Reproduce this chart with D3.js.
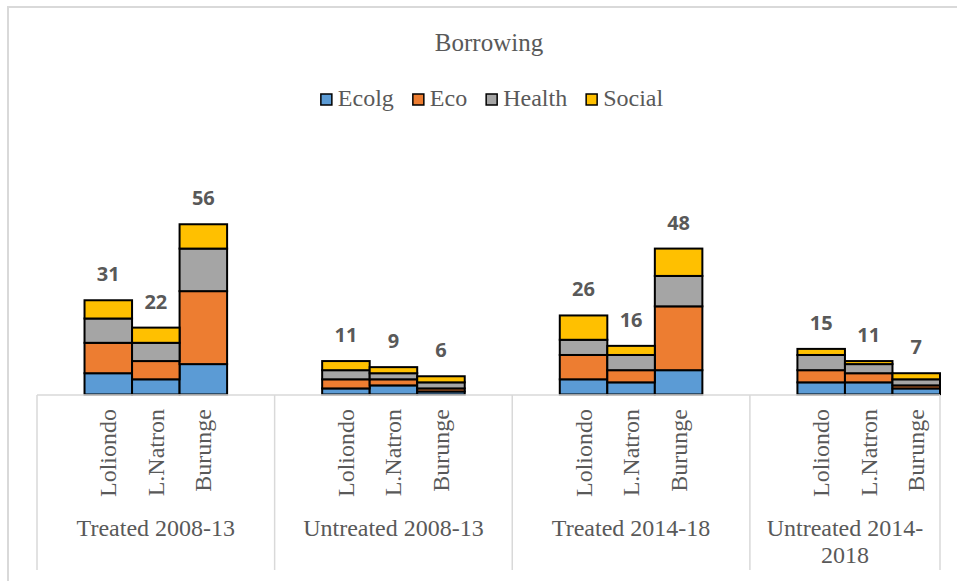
<!DOCTYPE html>
<html lang="en">
<head>
  <meta charset="UTF-8">
  <title>Borrowing – stacked bars</title>
  <script src="https://d3js.org/d3.v7.min.js"></script>
  <style>
    body { margin: 0; background: white; }
    svg { display: block; background: white; }
    .serif { font-family: "Liberation Serif", "DejaVu Serif", serif; fill: #595959; }
    .total { font-family: "Open Sans", "Noto Sans", sans-serif; font-weight: bold; fill: #595959; }
  </style>
</head>
<body>
<svg width="957" height="581"></svg>
<script>
  // data
  const groups = ["Treated 2008-13", "Untreated 2008-13", "Treated 2014-18", "Untreated 2014-2018"];
  const sites = ["Loliondo", "L.Natron", "Burunge"];
  const seriesNames = ["Ecolg", "Eco", "Health", "Social"];
  const colors = ["#5B9BD5", "#ED7D31", "#A5A5A5", "#FFC000"];

  // one value per group x site, in order
  const ecolg  = [7, 5, 10,  2, 3, 1,  5, 4, 8,   4, 4, 2];
  const eco    = [10, 6, 24, 3, 2, 1,  8, 4, 21,  4, 3, 1];
  const health = [8, 6, 14,  3, 2, 2,  5, 5, 10,  5, 3, 2];
  const social = [6, 5, 8,   3, 2, 2,  8, 3, 9,   2, 1, 2];

  const svg = d3.select("svg");

  // outer chart border (right and bottom edges cropped off)
  svg.append("rect")
    .attr("x", 8).attr("y", 7)
    .attr("width", 1000).attr("height", 700)
    .attr("fill", "none")
    .attr("stroke", "#d9d9d9")
    .attr("stroke-width", 2);

  // category slots: blank, 3 sites, blank per group; last group has no trailing blank
  const slots = [];
  groups.forEach((g, gi) => {
    slots.push(`gap-${gi}-a`);
    sites.forEach(s => slots.push(`${g}|${s}`));
    if (gi < groups.length - 1) slots.push(`gap-${gi}-b`);
  });

  const x = d3.scaleBand().domain(slots).range([37, 940]).padding(0);
  const y = d3.scaleLinear().domain([0, 60]).range([394.5, 394.5 - 60 * 3.04]);

  const rows = [];
  groups.forEach((g, gi) => {
    sites.forEach((s, si) => {
      const i = gi * sites.length + si;
      rows.push({ key: `${g}|${s}`, site: s, Ecolg: ecolg[i], Eco: eco[i], Health: health[i], Social: social[i] });
    });
  });

  const stacked = d3.stack().keys(seriesNames)(rows);

  const chart = svg.append("g");
  stacked.forEach((layer, li) => {
    chart.append("g")
      .attr("fill", colors[li])
      .selectAll("rect")
      .data(layer)
      .join("rect")
        .attr("x", d => x(d.data.key))
        .attr("width", x.bandwidth())
        .attr("y", d => y(d[1]))
        .attr("height", d => y(d[0]) - y(d[1]))
        .attr("stroke", "#000")
        .attr("stroke-width", 2);
  });

  // totals above bars
  chart.selectAll("text.total")
    .data(rows)
    .join("text")
      .attr("class", "total")
      .attr("x", d => x(d.key) + x.bandwidth() / 2)
      .attr("y", d => y(d.Ecolg + d.Eco + d.Health + d.Social) - 19)
      .attr("text-anchor", "middle")
      .style("font-size", "20px")
      .text(d => d.Ecolg + d.Eco + d.Health + d.Social);

  // multi-level category axis
  const axis = svg.append("g").attr("stroke", "#d9d9d9").attr("stroke-width", 1.5);
  axis.append("line").attr("x1", 37).attr("x2", 940).attr("y1", 395).attr("y2", 395);

  const groupEdges = groups.map((g, gi) => [
    x(`gap-${gi}-a`),
    gi < groups.length - 1 ? x(`gap-${gi}-b`) + x.bandwidth() : x(`${g}|${sites[2]}`) + x.bandwidth()
  ]);
  const dividers = [groupEdges[0][0], ...groupEdges.map(e => e[1])];
  axis.selectAll("line.div")
    .data(dividers)
    .join("line")
      .attr("x1", d => d).attr("x2", d => d)
      .attr("y1", 395).attr("y2", 570);

  svg.append("g").selectAll("text")
    .data(rows)
    .join("text")
      .attr("class", "serif")
      .attr("transform", d => `translate(${x(d.key) + x.bandwidth() / 2 + 8},409) rotate(-90)`)
      .attr("text-anchor", "end")
      .style("font-size", "24px")
      .text(d => d.site);

  const groupLabels = svg.append("g");
  groups.forEach((g, gi) => {
    const cx = (groupEdges[gi][0] + groupEdges[gi][1]) / 2;
    const lines = g === "Untreated 2014-2018" ? ["Untreated 2014-", "2018"] : [g];
    lines.forEach((ln, li) => {
      groupLabels.append("text")
        .attr("class", "serif")
        .attr("x", cx)
        .attr("y", 536 + li * 27)
        .attr("text-anchor", "middle")
        .style("font-size", "24px")
        .text(ln);
    });
  });

  // title
  svg.append("text")
    .attr("class", "serif")
    .attr("x", 489).attr("y", 51)
    .attr("text-anchor", "middle")
    .style("font-size", "25px")
    .text("Borrowing");

  // legend, centred
  const legend = svg.append("g");
  const items = legend.selectAll("g")
    .data(seriesNames)
    .join("g");
  items.append("rect")
    .attr("width", 11).attr("height", 11)
    .attr("y", -12)
    .attr("fill", (d, i) => colors[i])
    .attr("stroke", "#000")
    .attr("stroke-width", 1.5);
  items.append("text")
    .attr("class", "serif")
    .attr("x", 17)
    .style("font-size", "24px")
    .text(d => d);
  let cursor = 0;
  items.each(function () {
    d3.select(this).attr("transform", `translate(${cursor},0)`);
    cursor += 17 + d3.select(this).select("text").node().getComputedTextLength() + 19;
  });
  const legendWidth = cursor - 19;
  legend.attr("transform", `translate(${492 - legendWidth / 2},106)`);
</script>
</body>
</html>
